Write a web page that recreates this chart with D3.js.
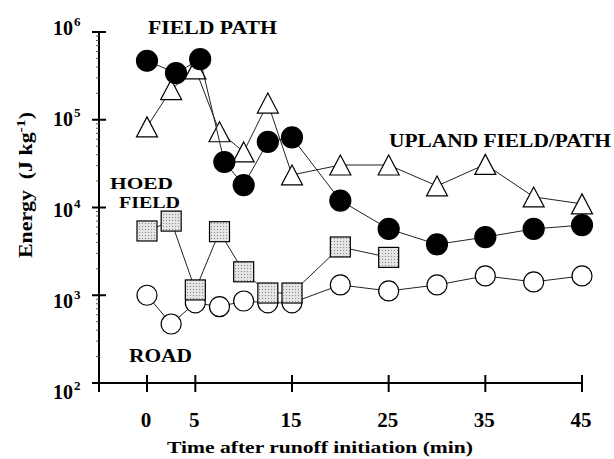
<!DOCTYPE html>
<html>
<head>
<meta charset="utf-8">
<script src="https://cdn.jsdelivr.net/npm/d3@7"></script>
<style>
  body { margin: 0; background: #fff; }
  svg { display: block; }
  text { font-family: "Liberation Serif", "Times New Roman", serif; font-weight: bold; fill: #000; }
</style>
</head>
<body>
<svg id="chart" width="614" height="459"></svg>
<script>
// Time (min) and energy (J/kg)
const roadTime = [0, 2.5, 5, 7.5, 10, 12.5, 15, 20, 25, 30, 35, 40, 45];
const roadEnergy = [1000, 470, 820, 740, 860, 820, 820, 1310, 1120, 1310, 1660, 1420, 1660];

const hoedTime = [0, 2.5, 5, 7.5, 10, 12.5, 15, 20, 25];
const hoedEnergy = [5400, 7000, 1150, 5300, 1850, 1060, 1060, 3550, 2700];

const uplandTime = [0, 2.5, 5, 7.5, 10, 12.5, 15, 20, 25, 30, 35, 40, 45];
const uplandEnergy = [83000, 220000, 380000, 73000, 43000, 155000, 23500, 30500, 30500, 17600, 31000, 13200, 11000];

const pathTime = [0, 3, 5.5, 8, 10, 12.5, 15, 20, 25, 30, 35, 40, 45];
const pathEnergy = [470000, 340000, 490000, 33000, 18000, 56000, 63000, 12000, 5700, 3800, 4600, 5700, 6300];

const xTicks = [0, 5, 15, 25, 35, 45];
const yTicks = [1e2, 1e3, 1e4, 1e5, 1e6];

const svg = d3.select("#chart");

const x = d3.scaleLinear().domain([0, 45]).range([147, 582]);
const y = d3.scaleLog().domain([1e2, 1e6]).range([383, 32]);

// stipple fill for the hoed field squares
const defs = svg.append("defs");
const pat = defs.append("pattern")
  .attr("id", "stipple")
  .attr("width", 3).attr("height", 3)
  .attr("patternUnits", "userSpaceOnUse");
pat.append("rect").attr("width", 3).attr("height", 3).attr("fill", "#e4e4e4");
pat.append("rect").attr("x", 1).attr("y", 1).attr("width", 1).attr("height", 1).attr("fill", "#8a8a8a");

// axes lines
svg.append("line")
  .attr("x1", 92).attr("x2", x(45))
  .attr("y1", y(1e2)).attr("y2", y(1e2))
  .attr("stroke", "#000").attr("stroke-width", 2);
svg.append("line")
  .attr("x1", 99).attr("x2", 99)
  .attr("y1", y(1e6)).attr("y2", y(1e2) + 9)
  .attr("stroke", "#000").attr("stroke-width", 2);

// x ticks
svg.selectAll(".xtick")
  .data(xTicks)
  .join("line")
  .attr("class", "xtick")
  .attr("x1", d => x(d)).attr("x2", d => x(d))
  .attr("y1", y(1e2) - 8).attr("y2", y(1e2) + 9)
  .attr("stroke", "#000").attr("stroke-width", 2);

svg.selectAll(".xlab")
  .data(xTicks)
  .join("text")
  .attr("class", "xlab")
  .attr("x", d => x(d) - 1)
  .attr("y", 427)
  .attr("text-anchor", "middle")
  .attr("font-size", 21)
  .text(d => d);

// y major ticks
svg.selectAll(".ytick")
  .data(yTicks)
  .join("line")
  .attr("class", "ytick")
  .attr("x1", 92).attr("x2", 106)
  .attr("y1", d => y(d)).attr("y2", d => y(d))
  .attr("stroke", "#000").attr("stroke-width", 2);

// y minor ticks (left side only)
const minor = [];
yTicks.slice(0, -1).forEach(d => { for (let k = 2; k < 10; k++) minor.push(d * k); });
svg.selectAll(".ymin")
  .data(minor)
  .join("line")
  .attr("class", "ymin")
  .attr("x1", 96).attr("x2", 99)
  .attr("y1", d => y(d)).attr("y2", d => y(d))
  .attr("stroke", "#555").attr("stroke-width", 1);

// y tick labels: 10 with a superscript exponent
const ylab = svg.selectAll(".ylab")
  .data(yTicks)
  .join("text")
  .attr("class", "ylab")
  .attr("x", 53)
  .attr("y", (d, i) => y(d) + 3 + (4 - i) * 3.2)
  .attr("font-size", 20);
ylab.append("tspan").text("10");
ylab.append("tspan")
  .attr("dx", 1).attr("dy", -9)
  .attr("font-size", 13)
  .text(d => Math.round(Math.log10(d)));

// axis titles
svg.append("text")
  .attr("x", 320).attr("y", 453)
  .attr("text-anchor", "middle")
  .attr("font-size", 17)
  .attr("textLength", 306).attr("lengthAdjust", "spacingAndGlyphs")
  .text("Time after runoff initiation (min)");

const yt = svg.append("text")
  .attr("transform", "translate(32,185) rotate(-90)")
  .attr("text-anchor", "middle")
  .attr("font-size", 18)
  .attr("textLength", 146).attr("lengthAdjust", "spacingAndGlyphs");
yt.append("tspan").text("Energy\u00a0 (J kg");
yt.append("tspan").attr("dy", -7).attr("font-size", 13).text("-1");
yt.append("tspan").attr("dy", 7).text(")");

// series: lines then markers
const line = d3.line().x(d => x(d[0])).y(d => y(d[1]));

function drawSeries(times, values, kind) {
  const pts = d3.zip(times, values);
  const g = svg.append("g");
  g.append("path")
    .attr("d", line(pts))
    .attr("fill", "none")
    .attr("stroke", "#222")
    .attr("stroke-width", 1);
  const s = 10;
  if (kind === "circle" || kind === "filled") {
    g.selectAll("circle").data(pts).join("circle")
      .attr("cx", d => x(d[0])).attr("cy", d => y(d[1]))
      .attr("r", kind === "filled" ? 10.5 : 10)
      .attr("fill", kind === "filled" ? "#000" : "#fff")
      .attr("stroke", "#000").attr("stroke-width", 1.2);
  } else if (kind === "square") {
    g.selectAll("rect").data(pts).join("rect")
      .attr("x", d => x(d[0]) - s).attr("y", d => y(d[1]) - s)
      .attr("width", 2 * s).attr("height", 2 * s)
      .attr("fill", "url(#stipple)")
      .attr("stroke", "#000").attr("stroke-width", 1.2);
  } else if (kind === "triangle") {
    g.selectAll("path.tri").data(pts).join("path")
      .attr("class", "tri")
      .attr("d", d => {
        const cx = x(d[0]), cy = y(d[1]);
        return `M${cx},${cy - s}L${cx + s + 0.5},${cy + s}L${cx - s - 0.5},${cy + s}Z`;
      })
      .attr("fill", "#fff")
      .attr("stroke", "#000").attr("stroke-width", 1.2);
  }
}

drawSeries(roadTime, roadEnergy, "circle");
drawSeries(hoedTime, hoedEnergy, "square");
drawSeries(uplandTime, uplandEnergy, "triangle");
drawSeries(pathTime, pathEnergy, "filled");

// annotation labels
const notes = [
  { t: "FIELD PATH", x: 148, y: 34, w: 129, f: 19 },
  { t: "UPLAND FIELD/PATH", x: 389, y: 147, w: 222, f: 19 },
  { t: "HOED", x: 110, y: 189, w: 63, f: 17 },
  { t: "FIELD", x: 119, y: 208, w: 61, f: 17 },
  { t: "ROAD", x: 129, y: 362, w: 63, f: 19 }
];
svg.selectAll(".note")
  .data(notes)
  .join("text")
  .attr("class", "note")
  .attr("x", d => d.x).attr("y", d => d.y)
  .attr("font-size", d => d.f)
  .attr("textLength", d => d.w).attr("lengthAdjust", "spacingAndGlyphs")
  .text(d => d.t);
</script>
</body>
</html>
